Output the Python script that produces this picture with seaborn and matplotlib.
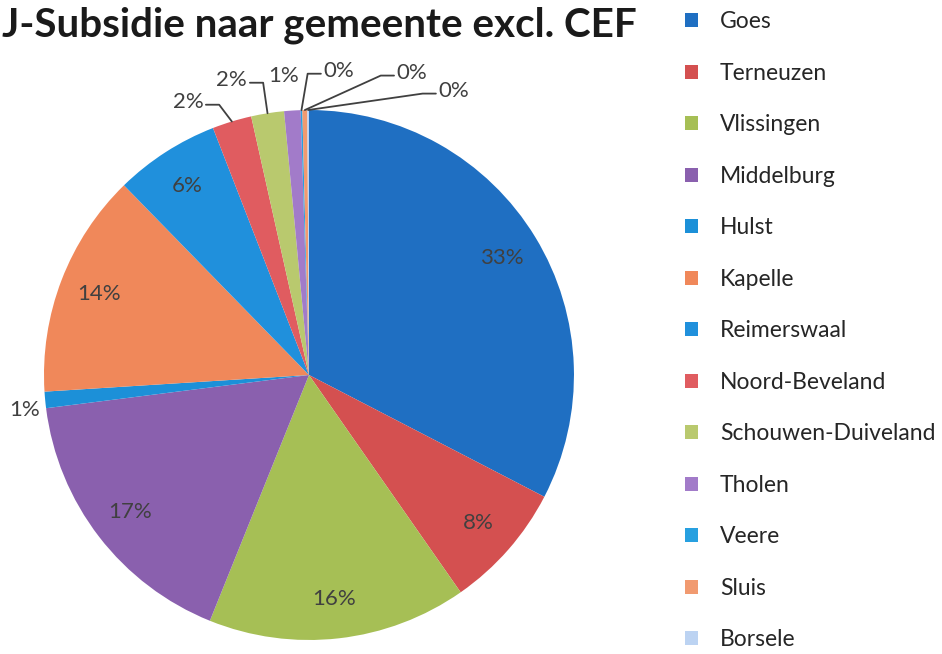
import numpy as np
import matplotlib
matplotlib.use("Agg")
import matplotlib.pyplot as plt
import seaborn as sns

gemeenten = ["Goes", "Terneuzen", "Vlissingen", "Middelburg", "Hulst", "Kapelle",
             "Reimerswaal", "Noord-Beveland", "Schouwen-Duiveland", "Tholen",
             "Veere", "Sluis", "Borsele"]
aandeel = [32.6, 7.7, 15.8, 16.9, 1.0, 13.7, 6.4, 2.4, 2.0, 1.0, 0.1, 0.3, 0.1]
kleuren = ["#1f6fc2", "#d45050", "#a6bf55", "#8a60ae", "#1c90d8", "#f0885a",
           "#2090dc", "#e05c60", "#b9c96e", "#a27bc9", "#27a0e0", "#f19a70",
           "#bcd3f2"]

# label positions (pie radius = 1) for the small slices, placed outside
buiten_labels = {
    "Hulst": (-1.072, -0.132),
    "Noord-Beveland": (-0.457, 1.030),
    "Schouwen-Duiveland": (-0.291, 1.113),
    "Tholen": (-0.094, 1.128),
    "Veere": (0.113, 1.147),
    "Sluis": (0.389, 1.140),
    "Borsele": (0.547, 1.072),
}

sns.set_theme(style="white")
plt.rcParams["font.family"] = ["Lato", "DejaVu Sans"]

fig = plt.figure(figsize=(9.42, 6.54), dpi=100)
ax = fig.add_axes([0.0467, 0.0214, 0.5626, 0.8104])

wedges, _ = ax.pie(aandeel, colors=kleuren, startangle=90, counterclock=False,
                   radius=1, wedgeprops={"linewidth": 0})
ax.set_xlim(-1, 1)
ax.set_ylim(-1, 1)
ax.set_aspect("equal")
ax.axis("off")

tekstkleur = "#404040"
totaal = sum(aandeel)
fig.canvas.draw()
inv = ax.transData.inverted()

for naam, w, v in zip(gemeenten, wedges, aandeel):
    pct = f"{v / totaal * 100:.0f}%"
    mid = np.deg2rad((w.theta1 + w.theta2) / 2)
    ax_, ay_ = np.cos(mid), np.sin(mid)
    if naam not in buiten_labels:
        ax.text(0.85 * ax_, 0.85 * ay_, pct, ha="center", va="center",
                fontsize=16, color=tekstkleur)
        continue
    lx, ly = buiten_labels[naam]
    t = ax.text(lx, ly, pct, ha="center", va="center", fontsize=16,
                color=tekstkleur, clip_on=False)
    bb = t.get_window_extent(fig.canvas.get_renderer())
    (x0, y0), (x1, y1) = inv.transform([[bb.x0, bb.y0], [bb.x1, bb.y1]])
    if np.hypot(lx - ax_, ly - ay_) < 0.15:
        continue
    if abs(lx - ax_) < 0.04:
        xs, ys = [ax_, ax_], [y0 + 0.01, ay_]
    elif lx < ax_:
        xs = [x1 + 0.01, x1 + 0.06, ax_]
        ys = [ly - 0.01, ly - 0.01, ay_]
    else:
        xs = [x0 - 0.01, x0 - 0.06, ax_]
        ys = [ly - 0.01, ly - 0.01, ay_]
    ax.plot(xs, ys, color=tekstkleur, lw=1.3, clip_on=False)

fig.text(2 / 942, 1 - 36 / 654, "J-Subsidie naar gemeente excl. CEF",
         ha="left", va="baseline", fontsize=29.1, fontweight="bold",
         color="#1a1a1a")

leg = fig.legend(wedges, gemeenten, loc="upper left",
                 bbox_to_anchor=(674 / 942, 1.0), frameon=False,
                 fontsize=16.5, handlelength=0.55, handleheight=0.55,
                 handletextpad=0.95, labelspacing=1.33, borderaxespad=0.1)
for txt in leg.get_texts():
    txt.set_color("#262626")

fig.savefig("out.png", dpi=100)
